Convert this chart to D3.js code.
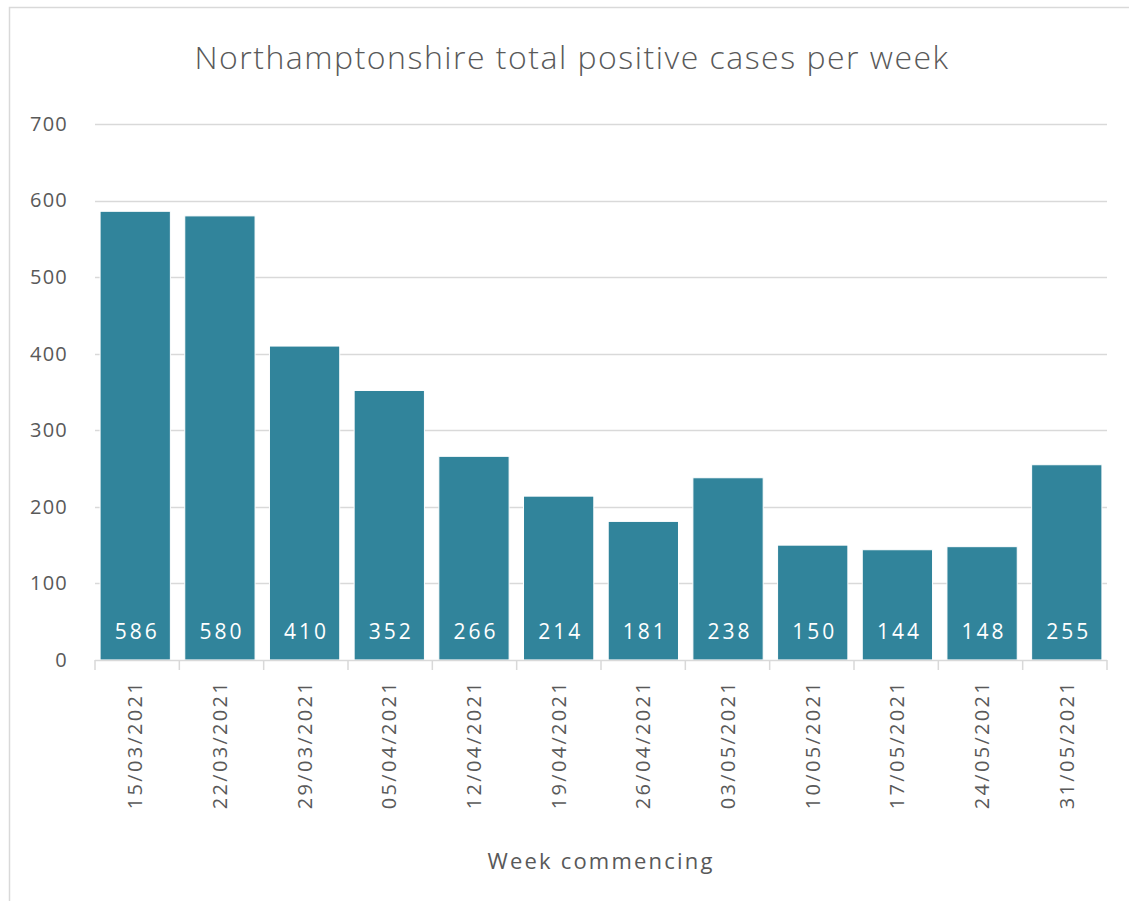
<!DOCTYPE html>
<head>
  <meta charset="utf-8">
  <script src="https://d3js.org/d3.v7.min.js"></script>
  <style>
    body { margin:0; background:#fff; }
    text { font-family: "Open Sans", sans-serif; fill:#595959; }
  </style>
</head>
<body>
  <div id=figure></div>
  <script>
    var weeks = ["15/03/2021","22/03/2021","29/03/2021","05/04/2021","12/04/2021","19/04/2021",
                 "26/04/2021","03/05/2021","10/05/2021","17/05/2021","24/05/2021","31/05/2021"];
    var cases = [586, 580, 410, 352, 266, 214, 181, 238, 150, 144, 148, 255];
    var yTicks = [0, 100, 200, 300, 400, 500, 600, 700];

    var W = 1129, H = 901;
    var margin = {top: 124, right: 22, bottom: 241, left: 95};
    var width = W - margin.left - margin.right;
    var height = H - margin.top - margin.bottom;

    var svg = d3.select("#figure").append("svg")
      .attr("width", W)
      .attr("height", H);

    // chart border (only top/left visible in picture)
    svg.append("rect")
      .attr("x", 9.5).attr("y", 7.5)
      .attr("width", 1130).attr("height", 900)
      .style("fill", "none")
      .style("stroke", "#d9d9d9")
      .style("stroke-width", 1.5);

    var g = svg.append("g")
      .attr("transform", "translate(" + margin.left + "," + margin.top + ")");

    var x = d3.scaleBand()
      .domain(weeks)
      .range([0, width])
      .paddingInner(0.17)
      .paddingOuter(0.06);

    var y = d3.scaleLinear()
      .domain([0, 700])
      .range([height, 0]);

    // gridlines
    g.selectAll(".grid").data(yTicks.slice(1)).enter().append("line")
      .attr("class", "grid")
      .attr("x1", 0).attr("x2", width)
      .attr("y1", function(d) { return Math.round(y(d)) + 0.5; })
      .attr("y2", function(d) { return Math.round(y(d)) + 0.5; })
      .style("stroke", "#d9d9d9")
      .style("stroke-width", 1.5);

    // y axis labels
    var yAxis = d3.axisLeft(y).tickValues(yTicks).tickSize(0).tickPadding(27);
    var ya = g.append("g").attr("class", "y axis").call(yAxis);
    ya.select(".domain").remove();
    ya.selectAll("text")
      .style("font-size", "20px")
      .style("letter-spacing", "1.2px")
      .style("fill", "#595959")
      .style("font-family", "\"Open Sans\", sans-serif");

    // bars
    g.selectAll(".bar").data(cases).enter().append("rect")
      .attr("class", "bar")
      .attr("x", function(d, i) { return x(weeks[i]); })
      .attr("width", x.bandwidth())
      .attr("y", function(d) { return y(d); })
      .attr("height", function(d) { return height - y(d); })
      .style("fill", "#31849b")
      .style("stroke", "#ffffff")
      .style("stroke-width", 1);

    // value labels inside bar bottom
    g.selectAll(".val").data(cases).enter().append("text")
      .attr("class", "val")
      .attr("x", function(d, i) { return x(weeks[i]) + x.bandwidth() / 2 + 2; })
      .attr("y", height - 21)
      .attr("text-anchor", "middle")
      .style("fill", "#ffffff")
      .style("font-size", "21px")
      .style("letter-spacing", "3px")
      .text(function(d) { return d; });

    // x axis with ticks between categories
    var xa = g.append("g")
      .attr("transform", "translate(0," + height + ")");
    xa.append("line")
      .attr("x1", 0).attr("x2", width)
      .attr("y1", 0.5).attr("y2", 0.5)
      .style("stroke", "#d9d9d9").style("stroke-width", 1.5);
    var bounds = d3.range(weeks.length + 1).map(function(i) {
      return i * width / weeks.length;
    });
    xa.selectAll(".tk").data(bounds).enter().append("line")
      .attr("x1", function(d) { return d; })
      .attr("x2", function(d) { return d; })
      .attr("y1", 0).attr("y2", 10)
      .style("stroke", "#d9d9d9").style("stroke-width", 1.5);

    xa.selectAll(".xl").data(weeks).enter().append("text")
      .attr("class", "xl")
      .attr("transform", function(d) {
        return "translate(" + (x(d) + x.bandwidth() / 2 + 7) + ",20) rotate(-90)";
      })
      .attr("text-anchor", "end")
      .style("font-size", "20px")
      .style("letter-spacing", "2.3px")
      .text(function(d) { return d; });

    // title
    svg.append("text")
      .attr("x", 572)
      .attr("y", 69)
      .attr("text-anchor", "middle")
      .style("font-size", "32px")
      .style("font-weight", 300)
      .style("letter-spacing", "1.5px")
      .text("Northamptonshire total positive cases per week");

    // axis title
    svg.append("text")
      .attr("x", margin.left + width / 2)
      .attr("y", 869)
      .attr("text-anchor", "middle")
      .style("font-size", "22px")
      .style("letter-spacing", "2.2px")
      .text("Week commencing");
  </script>
</body>
